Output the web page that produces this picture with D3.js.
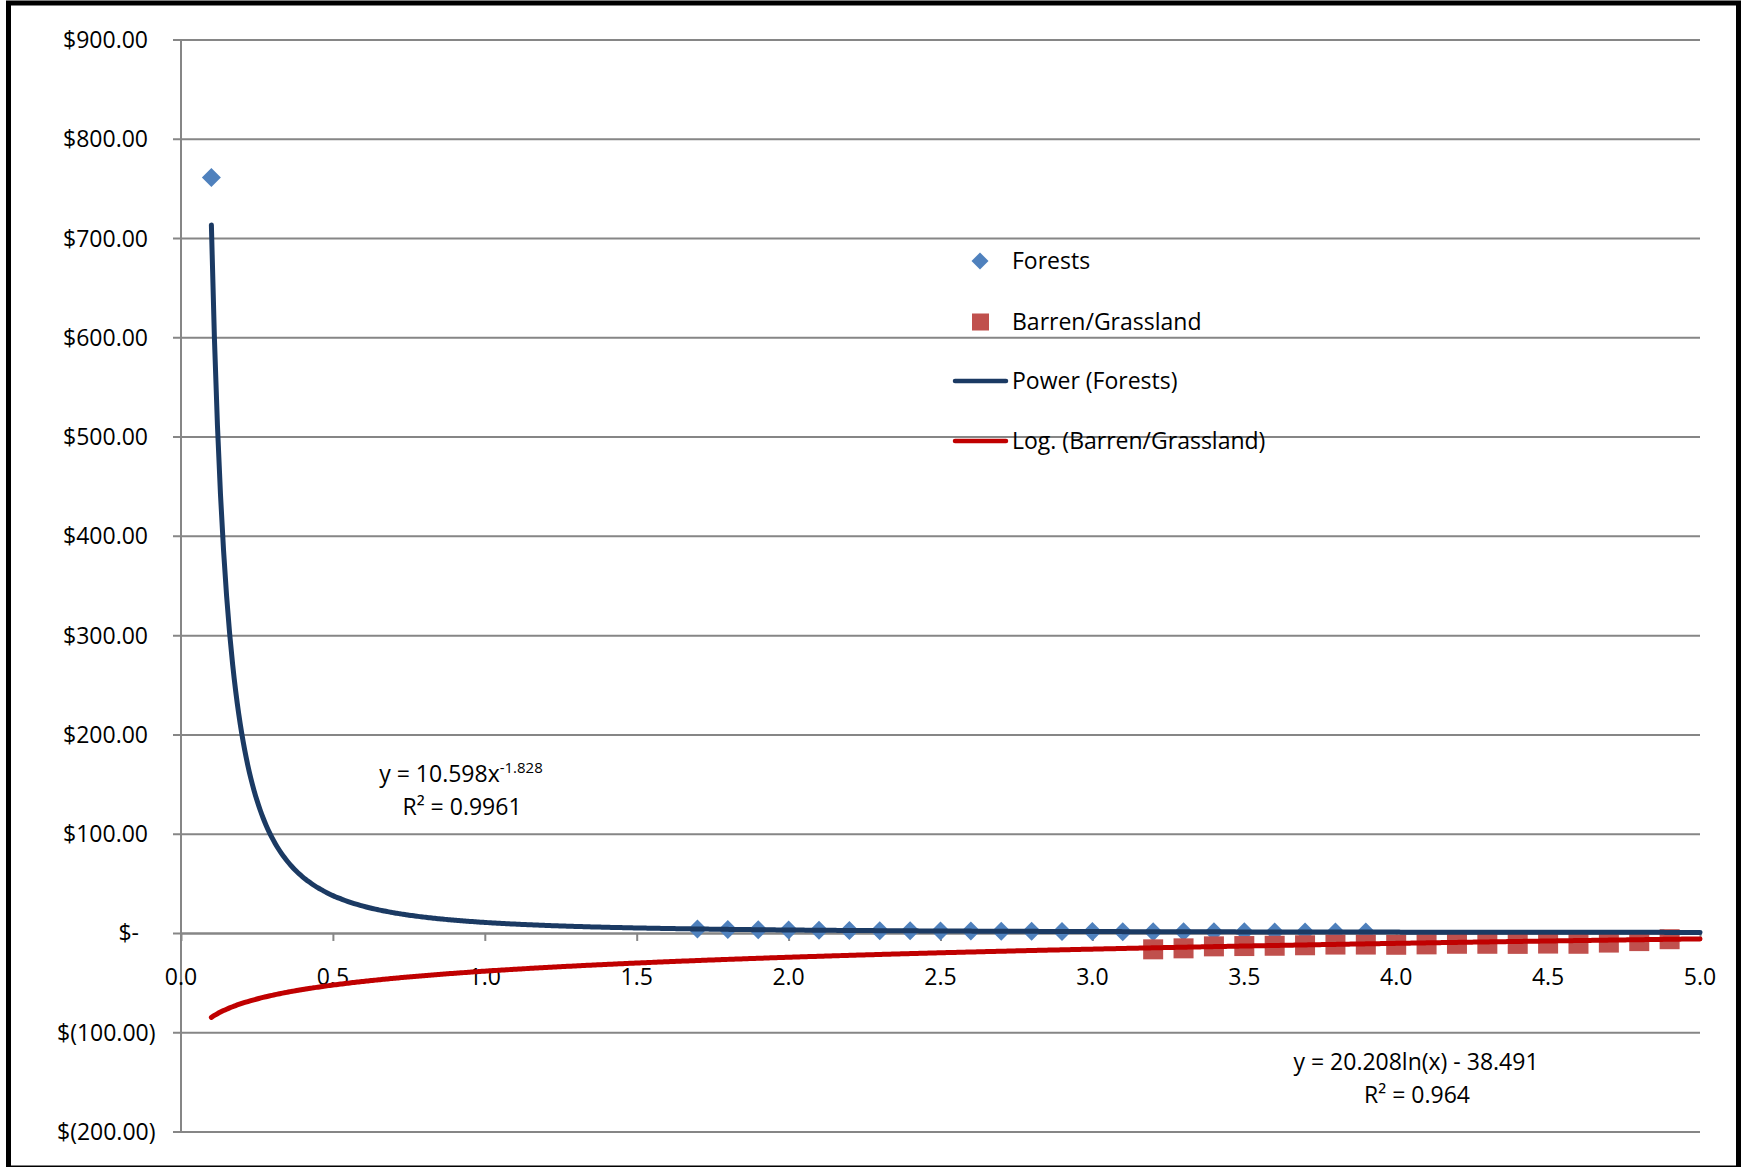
<!DOCTYPE html>
<html>
<head>
<meta charset="utf-8">
<script src="https://cdn.jsdelivr.net/npm/d3@7"></script>
<style>
  html, body { margin: 0; padding: 0; background: #fff; }
  svg { display: block; font-family: "Open Sans", sans-serif; }
</style>
</head>
<body>
<svg id="chart" width="1741" height="1167"></svg>
<script>
// ---------- data ----------
const forestX = [0.1, 1.7, 1.8, 1.9, 2.0, 2.1, 2.2, 2.3, 2.4, 2.5, 2.6, 2.7, 2.8, 2.9, 3.0, 3.1, 3.2, 3.3, 3.4, 3.5, 3.6, 3.7, 3.8, 3.9];
const forestY = [761, 4.0, 3.6, 3.3, 3.0, 2.7, 2.5, 2.3, 2.1, 2.0, 1.9, 1.7, 1.6, 1.5, 1.4, 1.3, 1.3, 1.2, 1.1, 1.1, 1.0, 1.0, 0.9, 0.9];
const barrenX = [3.2, 3.3, 3.4, 3.5, 3.6, 3.7, 3.8, 3.9, 4.0, 4.1, 4.2, 4.3, 4.4, 4.5, 4.6, 4.7, 4.8, 4.9];
const barrenY = [-16.5, -15.5, -13.5, -13.2, -12.9, -12.4, -11.7, -11.7, -11.9, -11.5, -10.9, -10.9, -11.0, -10.7, -10.9, -9.7, -8.2, -6.3];
// trendline coefficients as printed on the chart
const powerCoef = [10.598, -1.828];   // y = a * x^b
const logCoef = [20.208, -38.491];    // y = a * ln(x) + b
const trendRange = [0.1, 5.0];
const yTickValues = [900, 800, 700, 600, 500, 400, 300, 200, 100, 0, -100, -200];
const yTickLabels = ["$900.00", "$800.00", "$700.00", "$600.00", "$500.00", "$400.00", "$300.00", "$200.00", "$100.00", "$-", "$(100.00)", "$(200.00)"];
const xTickValues = [0, 0.5, 1.0, 1.5, 2.0, 2.5, 3.0, 3.5, 4.0, 4.5, 5.0];
const xTickLabels = ["0.0", "0.5", "1.0", "1.5", "2.0", "2.5", "3.0", "3.5", "4.0", "4.5", "5.0"];
const legendLabels = ["Forests", "Barren/Grassland", "Power (Forests)", "Log. (Barren/Grassland)"];
const powerLabel = ["y = 10.598x", "-1.828", "R² = 0.9961"];
const logLabel = ["y = 20.208ln(x) - 38.491", "R² = 0.964"];

// ---------- layout ----------
const svg = d3.select("#chart");
const pLeft = 181, pRight = 1700, pTop = 39.5, pBottom = 1131.5;
const grid = "#868686";
const cForest = "#4F81BD", cBarren = "#C0504D", cPower = "#1B3A63", cLog = "#C00000";
const FS = 23;

const x = d3.scaleLinear().domain([0, 5]).range([pLeft, pRight]);
const y = d3.scaleLinear().domain([-200, 900]).range([pBottom, pTop]);

// outer border
svg.append("rect").attr("x", 8.5).attr("y", 3).attr("width", 1730).attr("height", 1165)
  .attr("fill", "#fff").attr("stroke", "#000").attr("stroke-width", 5);

// horizontal gridlines + y ticks via axis
const yAxis = d3.axisLeft(y).tickValues(yTickValues).tickSize(-(pRight - pLeft)).tickSizeOuter(0).tickFormat("");
const gy = svg.append("g").attr("transform", `translate(${pLeft},0)`).call(yAxis);
gy.select(".domain").remove();
gy.selectAll(".tick line").attr("x1", -8).attr("stroke", grid).attr("stroke-width", 2);

// y labels
svg.append("g").selectAll("text").data(yTickValues).join("text")
  .attr("x", d => d < 0 ? 155.5 : (d === 0 ? 139 : 148))
  .attr("y", d => y(d) + 8.5)
  .attr("text-anchor", "end")
  .attr("font-size", FS)
  .attr("fill", "#000")
  .text((d, i) => yTickLabels[i]);

// y axis line
svg.append("line").attr("x1", pLeft).attr("x2", pLeft).attr("y1", pTop).attr("y2", pBottom)
  .attr("stroke", grid).attr("stroke-width", 2);

// x axis ticks at zero line
const xAxis = d3.axisBottom(x).tickValues(xTickValues).tickSize(8).tickSizeOuter(0).tickFormat("");
const gx = svg.append("g").attr("transform", `translate(0,${y(0)})`).call(xAxis);
gx.select(".domain").attr("stroke", grid).attr("stroke-width", 2);
gx.selectAll(".tick line").attr("stroke", grid).attr("stroke-width", 2);

// x labels (placed below the zero line)
svg.append("g").selectAll("text").data(xTickValues).join("text")
  .attr("x", d => x(d)).attr("y", 985)
  .attr("text-anchor", "middle").attr("font-size", FS).attr("fill", "#000")
  .text((d, i) => xTickLabels[i]);

// markers
const diamond = s => `M0,${-s}L${s},0L0,${s}L${-s},0Z`;
svg.append("g").selectAll("path").data(forestX).join("path")
  .attr("d", diamond(9.5))
  .attr("transform", (d, i) => `translate(${x(d)},${y(forestY[i])})`)
  .attr("fill", cForest);

svg.append("g").selectAll("rect").data(barrenX).join("rect")
  .attr("x", d => x(d) - 10).attr("y", (d, i) => y(barrenY[i]) - 10)
  .attr("width", 20).attr("height", 20)
  .attr("fill", cBarren);

// trendlines
const tx = d3.range(0, 491).map(i => trendRange[0] + i * 0.01);
const lineGen = d3.line().x(d => x(d[0])).y(d => y(d[1])).curve(d3.curveMonotoneX);
svg.append("path")
  .attr("d", lineGen(tx.map(v => [v, logCoef[0] * Math.log(v) + logCoef[1]])))
  .attr("fill", "none").attr("stroke", cLog).attr("stroke-width", 5).attr("stroke-linecap", "round");
svg.append("path")
  .attr("d", lineGen(tx.map(v => [v, powerCoef[0] * Math.pow(v, powerCoef[1])])))
  .attr("fill", "none").attr("stroke", cPower).attr("stroke-width", 5).attr("stroke-linecap", "round");

// legend
const lg = svg.append("g");
const ly = [261, 322, 381, 441];
lg.append("path").attr("d", diamond(8.5)).attr("transform", `translate(980,${ly[0]})`).attr("fill", cForest);
lg.append("rect").attr("x", 972).attr("y", ly[1] - 8.5).attr("width", 17).attr("height", 17).attr("fill", cBarren);
lg.append("line").attr("x1", 955).attr("x2", 1006).attr("y1", ly[2]).attr("y2", ly[2])
  .attr("stroke", cPower).attr("stroke-width", 4.5).attr("stroke-linecap", "round");
lg.append("line").attr("x1", 955).attr("x2", 1006).attr("y1", ly[3]).attr("y2", ly[3])
  .attr("stroke", cLog).attr("stroke-width", 4.5).attr("stroke-linecap", "round");
lg.selectAll("text").data(legendLabels).join("text")
  .attr("x", 1012).attr("y", (d, i) => ly[i] + 8)
  .attr("font-size", FS).attr("fill", "#000").text(d => d);

// trendline equations
const t1 = svg.append("text").attr("x", 461).attr("y", 782).attr("text-anchor", "middle")
  .attr("font-size", FS).attr("fill", "#000");
t1.append("tspan").text(powerLabel[0]);
t1.append("tspan").attr("font-size", 15).attr("dy", -9).text(powerLabel[1]);
svg.append("text").attr("x", 462).attr("y", 815).attr("text-anchor", "middle")
  .attr("font-size", FS).attr("fill", "#000").text(powerLabel[2]);

svg.append("text").attr("x", 1416).attr("y", 1070).attr("text-anchor", "middle")
  .attr("font-size", FS).attr("fill", "#000").text(logLabel[0]);
svg.append("text").attr("x", 1417).attr("y", 1103).attr("text-anchor", "middle")
  .attr("font-size", FS).attr("fill", "#000").text(logLabel[1]);
</script>
</body>
</html>
